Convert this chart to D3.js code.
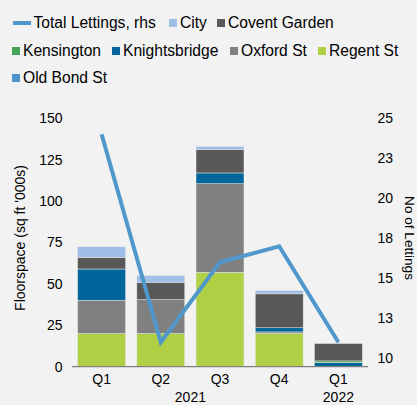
<!DOCTYPE html>
<meta charset="utf-8">
<head>
  <title>Lettings</title>
  <script src="https://d3js.org/d3.v7.min.js"></script>
  <style>
    body { margin: 0; background: #f2f2f2; font-family: "Liberation Sans", Arial, sans-serif; }
    text { font-family: "Liberation Sans", Arial, sans-serif; font-size: 14px; fill: #000; }
  </style>
</head>
<body>
<div id="my_dataviz"></div>
<script>
// data
var quarters = ["Q1", "Q2", "Q3", "Q4", "Q1"];
var years = ["2021", "2022"];
var yearSpan = [[0, 3], [4, 4]];
var regentSt = [20, 20, 57, 20, 0];
var oxfordSt = [20, 20.5, 53.5, 1, 0];
var knightsbridge = [19, 0, 6.5, 2.5, 2.5];
var kensington = [0, 0, 0, 0, 1];
var coventGarden = [7, 10.5, 14, 20.5, 10.5];
var city = [6.5, 4, 2, 2, 0];
var oldBondSt = [0, 0, 0, 0, 0];
var totalLettings = [24, 11, 16, 17, 11];
var leftTicks = [0, 25, 50, 75, 100, 125, 150];
var rightTicks = [10, 12.5, 15, 17.5, 20, 22.5, 25];

var series = [
  {name: "Regent St", values: regentSt, color: "#afd045"},
  {name: "Oxford St", values: oxfordSt, color: "#808080"},
  {name: "Knightsbridge", values: knightsbridge, color: "#00659a"},
  {name: "Kensington", values: kensington, color: "#45a356"},
  {name: "Covent Garden", values: coventGarden, color: "#585858"},
  {name: "City", values: city, color: "#9fbfe8"},
  {name: "Old Bond St", values: oldBondSt, color: "#4f93cc"}
];
var lineColor = "#5098cc";

var width = 417, height = 405;
var svg = d3.select("#my_dataviz").append("svg")
  .attr("width", width).attr("height", height);

var x = d3.scaleBand()
  .domain(d3.range(quarters.length))
  .range([72, 368])
  .paddingInner(0.19)
  .paddingOuter(0.095);

var y = d3.scaleLinear().domain([0, 150]).range([366.7, 118.3]);
var y2 = d3.scaleLinear().domain([10, 25]).range([358.3, 118.3]);

// stack the series
var table = quarters.map(function(q, i) {
  var row = {i: i};
  series.forEach(function(s) { row[s.name] = s.values[i]; });
  return row;
});
var stacked = d3.stack().keys(series.map(function(s) { return s.name; }))(table);

svg.append("g")
  .selectAll("g")
  .data(stacked)
  .enter().append("g")
    .attr("fill", function(d, k) { return series[k].color; })
  .selectAll("rect")
  .data(function(d) { return d; })
  .enter().append("rect")
    .attr("x", function(d) { return x(d.data.i); })
    .attr("width", x.bandwidth())
    .attr("y", function(d) { return y(d[1]); })
    .attr("height", function(d) { return y(d[0]) - y(d[1]); })
    .attr("stroke", function(d) { return d[1] > d[0] ? "#e8e8e8" : "none"; })
    .attr("stroke-width", 0.5);

// x axis line
svg.append("line")
  .attr("x1", 72).attr("x2", 368)
  .attr("y1", y(0)).attr("y2", y(0))
  .attr("stroke", "#808080").attr("stroke-width", 1.2);

// left axis
var leftAxis = svg.append("g")
  .attr("transform", "translate(62.5,0)")
  .call(d3.axisLeft(y).tickValues(leftTicks).tickSize(0).tickPadding(0));
leftAxis.select(".domain").remove();
leftAxis.selectAll("text")
  .style("font-size", "14px").style("font-family", null).attr("fill", "#000");

// right axis
var rightAxis = svg.append("g")
  .attr("transform", "translate(377.5,0)")
  .call(d3.axisRight(y2).tickValues(rightTicks).tickSize(0).tickPadding(0)
    .tickFormat(function(d) { return Math.round(d); }));
rightAxis.select(".domain").remove();
rightAxis.selectAll("text")
  .style("font-size", "14px").style("font-family", null).attr("fill", "#000");

// x labels
svg.append("g").selectAll("text")
  .data(quarters)
  .enter().append("text")
    .attr("x", function(d, i) { return x(i) + x.bandwidth() / 2; })
    .attr("y", 379)
    .attr("dy", "0.35em")
    .attr("text-anchor", "middle")
    .text(function(d) { return d; });

svg.append("g").selectAll("text")
  .data(years)
  .enter().append("text")
    .attr("x", function(d, i) {
      return (x(yearSpan[i][0]) + x(yearSpan[i][1]) + x.bandwidth()) / 2;
    })
    .attr("y", 397.5)
    .attr("dy", "0.35em")
    .attr("text-anchor", "middle")
    .text(function(d) { return d; });

// axis titles
svg.append("text")
  .attr("transform", "translate(25,238) rotate(-90)")
  .attr("text-anchor", "middle")
  .text("Floorspace (sq ft '000s)");

svg.append("text")
  .attr("transform", "translate(405,238) rotate(90)")
  .attr("text-anchor", "middle")
  .style("font-size", "13.6px")
  .text("No of Lettings");

// total lettings line
var line = d3.line()
  .x(function(d, i) { return x(i) + x.bandwidth() / 2; })
  .y(function(d) { return y2(d); });

svg.append("path")
  .datum(totalLettings)
  .attr("fill", "none")
  .attr("stroke", lineColor)
  .attr("stroke-width", 4)
  .attr("stroke-linejoin", "miter")
  .attr("d", line);

// legend
var legendItems = [
  {name: "Total Lettings, rhs", type: "line", color: lineColor, x: 13, row: 0},
  {name: "City", color: series[5].color, x: 169, row: 0},
  {name: "Covent Garden", color: series[4].color, x: 217, row: 0},
  {name: "Kensington", color: series[3].color, x: 12, row: 1},
  {name: "Knightsbridge", color: series[2].color, x: 112, row: 1},
  {name: "Oxford St", color: series[1].color, x: 230, row: 1},
  {name: "Regent St", color: series[0].color, x: 318, row: 1},
  {name: "Old Bond St", color: series[6].color, x: 12, row: 2}
];
var rowY = [23, 51, 78];

var legend = svg.append("g").selectAll("g")
  .data(legendItems)
  .enter().append("g")
    .attr("transform", function(d) { return "translate(" + d.x + "," + rowY[d.row] + ")"; });

legend.append("rect")
  .attr("x", 0)
  .attr("y", function(d) { return d.type == "line" ? -2 : -4; })
  .attr("width", function(d) { return d.type == "line" ? 18 : 8; })
  .attr("height", function(d) { return d.type == "line" ? 4 : 8; })
  .attr("fill", function(d) { return d.color; });

legend.append("text")
  .attr("x", function(d) { return d.type == "line" ? 20.5 : 11; })
  .attr("dy", "0.35em")
  .style("font-size", "15.6px")
  .text(function(d) { return d.name; });
</script>
</body>
